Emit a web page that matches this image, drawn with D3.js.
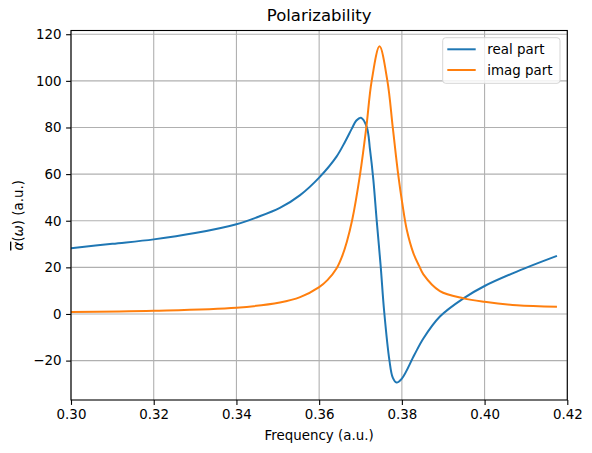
<!DOCTYPE html>
<html>
<head>
<meta charset="utf-8">
<script src="https://cdn.jsdelivr.net/npm/d3@7"></script>
<style>
  body { margin: 0; background: #fff; }
  text { font-family: "DejaVu Sans", sans-serif; }
</style>
</head>
<body>
<div id="plot"></div>
<script>
const width = 592
const height = 453
const margin = {top: 30.5, right: 24.7, bottom: 53, left: 71}

// values
const realFreq = [0.300, 0.310, 0.320, 0.330, 0.340, 0.345, 0.3505, 0.3554, 0.360, 0.3642, 0.3663, 0.3679,
    0.3690, 0.3701, 0.3715, 0.3723, 0.3731, 0.3739, 0.3749, 0.3757, 0.3770, 0.3778, 0.3787, 0.3800, 0.3830,
    0.3852, 0.3892, 0.3949, 0.400, 0.4078, 0.4175]
const realPart = [28.2, 30.1, 32.0, 34.7, 38.5, 41.5, 45.5, 51.0, 58.5, 67.5, 74.0, 79.5,
    83.0, 84.2, 80.3, 70.5, 57.6, 40.4, 20.0, 1.5, -20.0, -27.3, -29.4, -27.7, -17.6,
    -10.5, -1.1, 6.7, 12.0, 18.2, 24.9]

const imagFreq = [0.300, 0.320, 0.340, 0.3505, 0.3554, 0.360, 0.362, 0.3642, 0.3655, 0.3667, 0.3680, 0.3699,
    0.3714, 0.3727, 0.3746, 0.3765, 0.3778, 0.3791, 0.3801, 0.3812, 0.3828, 0.3842, 0.3852, 0.3892,
    0.3949, 0.400, 0.4078, 0.4175]
const imagPart = [0.9, 1.4, 2.7, 4.9, 7.2, 11.5, 14.5, 19.5, 24.5, 31.0, 40.4, 60.0,
    80.0, 100.0, 114.8, 100.0, 80.0, 60.0, 47.5, 36.0, 26.0, 20.5, 17.0, 9.8,
    6.7, 5.2, 3.7, 3.1]

const xTicks = [0.30, 0.32, 0.34, 0.36, 0.38, 0.40, 0.42]
const yTicks = [-20, 0, 20, 40, 60, 80, 100, 120]

const svg = d3.select('div#plot').append('svg')
    .attr('width', width)
    .attr('height', height)
    .attr('viewBox', [0, 0, width, height])

const xScale = d3.scaleLinear()
    .domain([0.30, 0.42])
    .range([margin.left, width - margin.right])

const yScale = d3.scaleLinear()
    .domain([-36.9, 121.6])
    .range([height - margin.bottom, margin.top])

// grid lines
const grid = svg.append('g')
grid.selectAll('line.gx')
    .data(xTicks)
    .enter().append('line')
    .attr('x1', d => xScale(d)).attr('x2', d => xScale(d))
    .attr('y1', margin.top).attr('y2', height - margin.bottom)
    .attr('stroke', '#b0b0b0').attr('stroke-width', 1.1)
grid.selectAll('line.gy')
    .data(yTicks)
    .enter().append('line')
    .attr('y1', d => yScale(d)).attr('y2', d => yScale(d))
    .attr('x1', margin.left).attr('x2', width - margin.right)
    .attr('stroke', '#b0b0b0').attr('stroke-width', 1.1)

// axes
const xAxis = d3.axisBottom(xScale)
    .tickValues(xTicks)
    .tickSize(4.9)
    .tickPadding(4.5)
    .tickFormat(d3.format('.2f'))

const yAxis = d3.axisLeft(yScale)
    .tickValues(yTicks)
    .tickSize(4.9)
    .tickPadding(4.5)
    .tickFormat(d => d < 0 ? '\u2212' + Math.abs(d) : d)

const styleAxis = g => {
    g.select('.domain').remove()
    g.selectAll('.tick line').attr('stroke', '#000').attr('stroke-width', 1.1)
    g.selectAll('.tick text')
        .attr('fill', '#000')
        .attr('font-size', '13.4px')
        .attr('font-family', 'DejaVu Sans')
}

svg.append('g')
    .attr('transform', 'translate(0,' + (height - margin.bottom) + ')')
    .call(xAxis)
    .call(styleAxis)

svg.append('g')
    .attr('transform', 'translate(' + margin.left + ',0)')
    .call(yAxis)
    .call(styleAxis)

// curves
svg.append('clipPath').attr('id', 'clip')
    .append('rect')
    .attr('x', margin.left).attr('y', margin.top)
    .attr('width', width - margin.left - margin.right)
    .attr('height', height - margin.top - margin.bottom)

const line = d3.line()
    .x(d => xScale(d[0]))
    .y(d => yScale(d[1]))
    .curve(d3.curveCatmullRom.alpha(0.5))

svg.append('path')
    .datum(d3.zip(realFreq, realPart))
    .attr('d', line)
    .attr('fill', 'none')
    .attr('stroke', '#1f77b4')
    .attr('stroke-width', 2)
    .attr('clip-path', 'url(#clip)')

svg.append('path')
    .datum(d3.zip(imagFreq, imagPart))
    .attr('d', line)
    .attr('fill', 'none')
    .attr('stroke', '#ff7f0e')
    .attr('stroke-width', 2)
    .attr('clip-path', 'url(#clip)')

// frame
svg.append('rect')
    .attr('x', margin.left).attr('y', margin.top)
    .attr('width', width - margin.left - margin.right)
    .attr('height', height - margin.top - margin.bottom)
    .attr('fill', 'none')
    .attr('stroke', '#000')
    .attr('stroke-width', 1.1)

// title and axis labels
svg.append('text')
    .text('Polarizability')
    .attr('x', (margin.left + width - margin.right) / 2)
    .attr('y', 21)
    .attr('text-anchor', 'middle')
    .attr('font-size', '16.5px')

svg.append('text')
    .text('Frequency (a.u.)')
    .attr('x', (margin.left + width - margin.right) / 2)
    .attr('y', 440)
    .attr('text-anchor', 'middle')
    .attr('font-size', '13.4px')

const ylab = svg.append('text')
    .attr('transform', 'translate(23,' + ((margin.top + height - margin.bottom) / 2) + ') rotate(-90)')
    .attr('text-anchor', 'middle')
    .attr('font-size', '13.4px')
ylab.append('tspan').text('\u03b1')
    .attr('font-style', 'italic')
    .style('text-decoration', 'overline')
ylab.append('tspan').text('(')
ylab.append('tspan').text('\u03c9').attr('font-style', 'italic')
ylab.append('tspan').text(') (a.u.)')

// legend
const legendNames = ['real part', 'imag part']
const legendColors = ['#1f77b4', '#ff7f0e']
const legend = svg.append('g').attr('transform', 'translate(442.7,37.7)')
legend.append('rect')
    .attr('width', 117.3).attr('height', 45.6)
    .attr('rx', 3)
    .attr('fill', 'rgba(255,255,255,0.8)')
    .attr('stroke', '#d5d5d5')
    .attr('stroke-width', 1)
legendNames.forEach((name, i) => {
    const y = 11.6 + i * 20.7
    legend.append('line')
        .attr('x1', 4.6).attr('x2', 33)
        .attr('y1', y).attr('y2', y)
        .attr('stroke', legendColors[i])
        .attr('stroke-width', 2)
    legend.append('text')
        .text(name)
        .attr('x', 44.6)
        .attr('y', y + 4.8)
        .attr('font-size', '13.4px')
})
</script>
</body>
</html>
